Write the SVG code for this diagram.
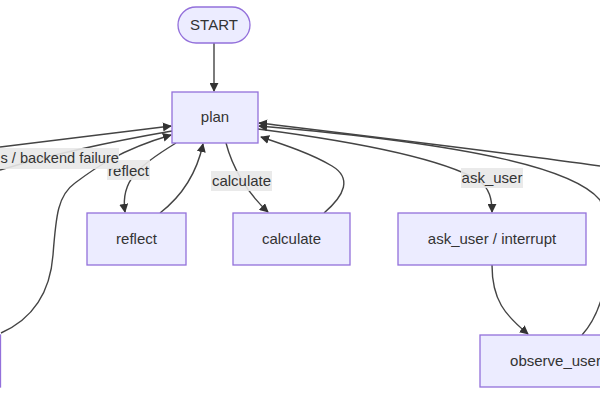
<svg xmlns="http://www.w3.org/2000/svg" width="600" height="400" viewBox="0 0 600 400">
<defs>
<marker id="arr" viewBox="0 0 10 10" refX="9" refY="5" markerUnits="userSpaceOnUse" markerWidth="9" markerHeight="9" orient="auto">
<path d="M0,0 L10,5 L0,10 z" fill="#333"/>
</marker>
<style>
.node rect{fill:#ECECFF;stroke:#9370DB;stroke-width:1.3}
.lbl{font-family:"Liberation Sans",Arial,sans-serif;font-size:15px;fill:#333;text-anchor:middle}
.edges path{fill:none;stroke:#444;stroke-width:1.4}
.elbl rect{fill:#e8e8e8;opacity:0.9}
</style>
</defs>
<rect width="600" height="400" fill="#fff"/>
<g class="edges" id="connectors">
<path d="M214,43 L214,91" marker-end="url(#arr)"/>
<path d="M176,143 C140,165 120,180 125,212" marker-end="url(#arr)"/>
<path d="M160,213 C182,196 197,172 203,144" marker-end="url(#arr)"/>
<path d="M226,143 C232,166 246,192 268,212" marker-end="url(#arr)"/>
<path d="M324,213 C345,195 352,178 332,166 C312,154 285,145 261,137" marker-end="url(#arr)"/>
<path d="M258,129 C350,141 440,158 478,180 C490,188 492,200 492,212" marker-end="url(#arr)"/>
<path d="M492,265 C492,300 505,315 528,334" marker-end="url(#arr)"/>
<path d="M582,335 C605,310 618,250 600,200 C575,170 480,145 259,126" marker-end="url(#arr)"/>
<path d="M600,166 C500,152 350,134 259,123" marker-end="url(#arr)"/>
<path d="M0,147 C60,140 120,132 171,126" marker-end="url(#arr)"/>
<path d="M172,131 C120,140 60,152 0,170"/>
<path d="M1,333 C30,320 50,295 53,255 C56,215 58,195 75,183 C95,168 120,150 171,135" marker-end="url(#arr)"/>
</g>
<g class="elbl" id="edge-labels">
<g id="lbl-reflect"><rect x="107" y="160" width="43" height="20"/><text class="lbl" x="128.5" y="176">reflect</text></g>
<g id="lbl-failure"><rect x="-10" y="148" width="129" height="21"/><text class="lbl" x="0.5" y="163" style="text-anchor:start;font-size:14.6px">s / backend failure</text></g>
<g id="lbl-calculate"><rect x="211" y="171" width="61" height="20"/><text class="lbl" x="241.5" y="186">calculate</text></g>
<g id="lbl-ask"><rect x="461" y="168" width="62" height="20"/><text class="lbl" x="492" y="183">ask_user</text></g>
</g>
<g class="node" id="start"><rect x="178" y="7" width="72" height="36" rx="18" ry="18"/><text class="lbl" x="214" y="30">START</text></g>
<g class="node" id="plan"><rect x="172" y="92" width="86" height="51"/><text class="lbl" x="215" y="122">plan</text></g>
<g class="node" id="reflect"><rect x="87" y="213" width="99" height="52"/><text class="lbl" x="136.5" y="244">reflect</text></g>
<g class="node" id="calculate"><rect x="233" y="213" width="117" height="52"/><text class="lbl" x="291.5" y="244">calculate</text></g>
<g class="node" id="ask_user"><rect x="398" y="213" width="188" height="52"/><text class="lbl" x="492" y="244">ask_user / interrupt</text></g>
<g class="node" id="observe_user"><rect x="480" y="335" width="151" height="52"/><text class="lbl" x="555.5" y="366">observe_user</text></g>
<g class="node" id="failure"><rect x="-130" y="335" width="130.5" height="52"/></g>
</svg>
